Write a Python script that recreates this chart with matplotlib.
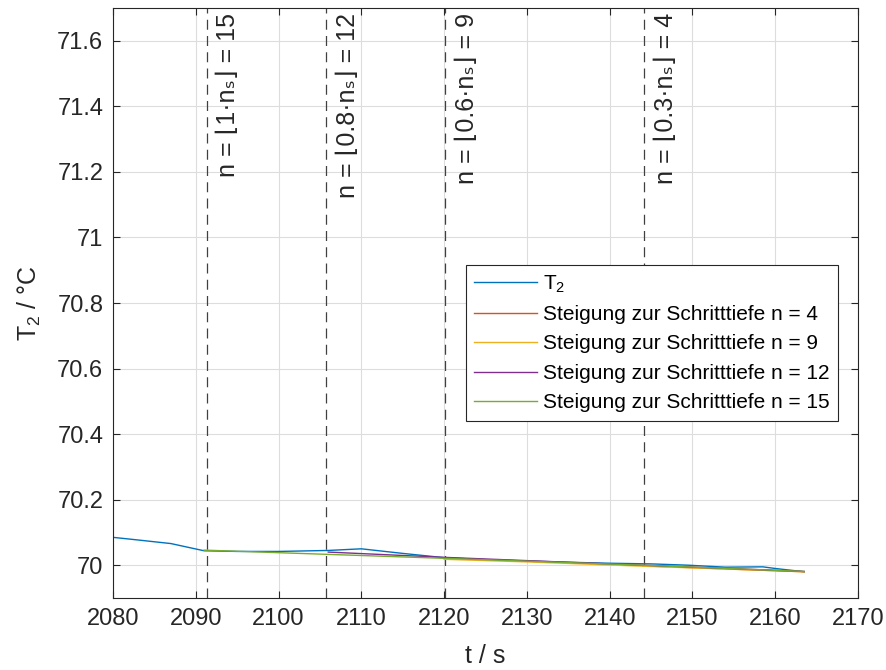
import numpy as np
import matplotlib.pyplot as plt

plt.rcParams['font.family'] = ['Liberation Sans', 'DejaVu Sans']
plt.rcParams['mathtext.fontset'] = 'custom'
plt.rcParams['mathtext.rm'] = 'Liberation Sans'
plt.rcParams['mathtext.it'] = 'Liberation Sans'

# T2 measurement
t_T2 = [2080, 2083, 2087, 2091, 2095, 2100, 2106, 2110, 2115, 2120, 2125, 2130, 2135, 2140, 2145, 2149.5, 2154, 2158.5, 2160, 2163.5]
T2 = [70.085, 70.077, 70.066, 70.044, 70.042, 70.042, 70.045, 70.050, 70.036, 70.023, 70.017, 70.013, 70.009, 70.006, 70.004, 70.000, 69.994, 69.995, 69.990, 69.980]

# slope lines (Steigung) for each step depth
t_n4 = [2144, 2163.5]
y_n4 = [69.998, 69.980]
t_n9 = [2120, 2130, 2144, 2163.5]
y_n9 = [70.018, 70.010, 69.997, 69.980]
t_n12 = [2106, 2120, 2144, 2163.5]
y_n12 = [70.040, 70.024, 70.000, 69.981]
t_n15 = [2091, 2106, 2120, 2144, 2163.5]
y_n15 = [70.046, 70.033, 70.021, 70.000, 69.981]

# dashed markers
t_marks = [2091.3, 2105.7, 2120.1, 2144.1]
mark_labels = ['n = \u230a1\u00b7n\u209b\u230b = 15',
               'n = \u230a0.8\u00b7n\u209b\u230b = 12',
               'n = \u230a0.6\u00b7n\u209b\u230b = 9',
               'n = \u230a0.3\u00b7n\u209b\u230b = 4']

fig = plt.figure(figsize=(8.87, 6.7), dpi=100)
ax = fig.add_axes([0.1274, 0.1075, 0.8399, 0.8805])

ax.plot(t_T2, T2, color=(0, 0.447, 0.741), lw=1, label='T$_2$')
ax.plot(t_n4, y_n4, color=(0.85, 0.325, 0.098), lw=1, label='Steigung zur Schritttiefe n = 4')
ax.plot(t_n9, y_n9, color=(0.929, 0.694, 0.125), lw=1, label='Steigung zur Schritttiefe n = 9')
ax.plot(t_n12, y_n12, color=(0.494, 0.184, 0.556), lw=1, label='Steigung zur Schritttiefe n = 12')
ax.plot(t_n15, y_n15, color=(0.466, 0.674, 0.188), lw=1, label='Steigung zur Schritttiefe n = 15')

for xm, lab in zip(t_marks, mark_labels):
    ax.axvline(xm, color='#404040', ls=(0, (8, 5)), lw=0.9, zorder=1)
    ax.text(xm + 1.2, 71.685, lab, rotation=90, ha='left', va='top', fontsize=18, color='#262626')

ax.set_xlim(2080, 2170)
ax.set_ylim(69.9, 71.7)
ax.set_xticks(np.arange(2080, 2171, 10))
ax.set_yticks([70, 70.2, 70.4, 70.6, 70.8, 71, 71.2, 71.4, 71.6])
ax.set_yticklabels(['70', '70.2', '70.4', '70.6', '70.8', '71', '71.2', '71.4', '71.6'])
ax.tick_params(direction='in', top=True, right=True, labelsize=17, colors='#262626', length=5, pad=7)
ax.grid(True, color='#dddddd', lw=0.8)
ax.set_axisbelow(True)
for s in ax.spines.values():
    s.set_color('#262626')
    s.set_linewidth(0.8)

ax.set_xlabel('t / s', fontsize=18, color='#262626', labelpad=10)
ax.set_ylabel('T$_2$ / °C', fontsize=18, color='#262626', labelpad=10)

leg = ax.legend(loc='upper right', bbox_to_anchor=(0.973, 0.5644), fontsize=15, fancybox=False,
                framealpha=1, edgecolor='#262626', handlelength=3.0, handletextpad=0.3,
                borderpad=0.4, labelspacing=0.5, borderaxespad=0)
leg.get_frame().set_linewidth(0.8)

fig.savefig('out.png', dpi=100)
